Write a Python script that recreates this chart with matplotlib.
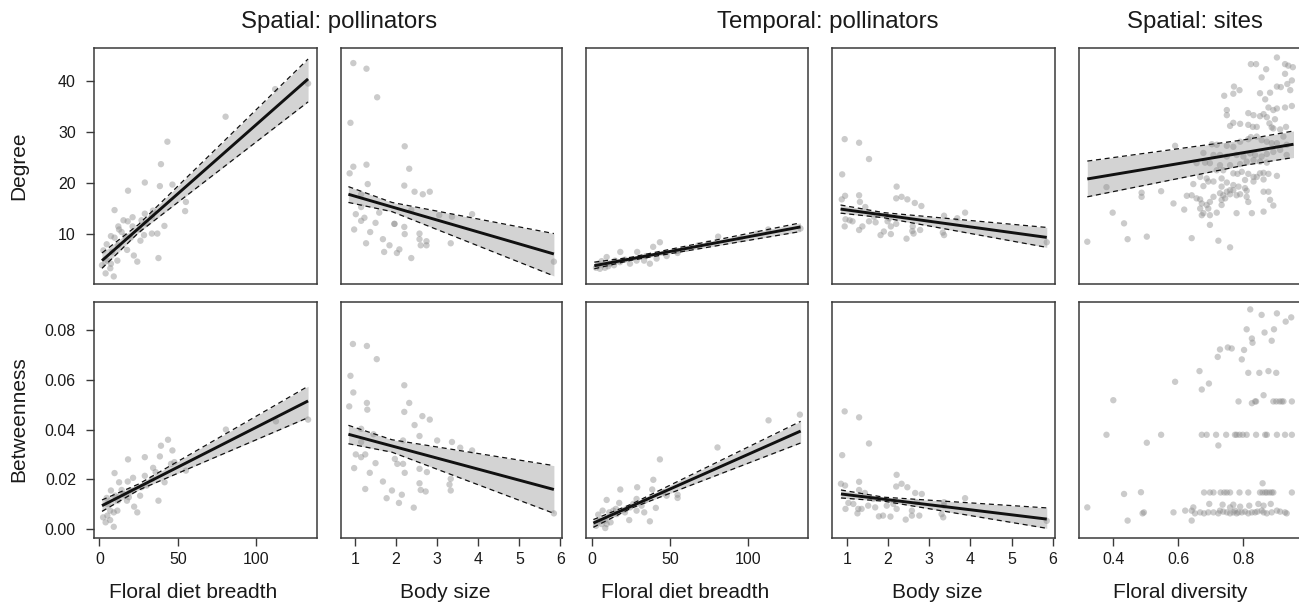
import matplotlib
matplotlib.use('Agg')
import matplotlib.pyplot as plt
import numpy as np

plt.rcParams['font.family'] = ['Liberation Sans', 'DejaVu Sans']

# ---------------- data ----------------
col_titles = ["Spatial: pollinators", "Temporal: pollinators", "Spatial: sites"]
x_labels = ["Floral diet breadth", "Body size", "Floral diet breadth", "Body size", "Floral diversity"]
y_labels = ["Degree", "Betweenness"]

deg_ticks = [10, 20, 30, 40]
btw_ticks = [0.00, 0.02, 0.04, 0.06, 0.08]
diet_ticks = [0, 50, 100]
body_ticks = [1, 2, 3, 4, 5, 6]
div_ticks = [0.4, 0.6, 0.8]

# Spatial: pollinators -- degree vs floral diet breadth
sp_diet_deg_x = [133, 112, 80.4, 43.3, 39.2, 38.5, 46.5, 28.9, 18.2, 55.1, 54.6, 9.6, 41.4, 18, 28.9, 33.4,
                 34.1, 36.9, 33.4, 28.4, 26.1, 21.9, 24.1, 37.6, 12.5, 7.3, 4.6, 9.6, 14.1, 17.6, 19.9, 21.1,
                 25.6, 11.4, 5, 7.3, 1.6, 3.9, 9.1, 6.9, 12, 15.3, 21.1, 26.8, 12, 8.1, 30, 16.4, 2.5]
sp_diet_deg_y = [39.5, 38.4, 33, 28.1, 23.7, 19.4, 19.7, 20.1, 18.5, 16.3, 14.5, 14.7, 11.6, 12.5, 14.0, 13.4,
                 14.6, 10.1, 10.1, 9.8, 8.7, 5.8, 4.6, 5.3, 10.9, 9.6, 8.0, 9.3, 10.4, 6.9, 9.3, 11.5,
                 10.9, 4.8, 4.8, 4.2, 3.9, 2.3, 1.7, 3.3, 11.5, 12.7, 13.3, 12.7, 7.8, 6.5, 12.1, 9.6, 6.8]

# Spatial: pollinators -- degree vs body size
sp_body_deg_x = [0.96, 1.28, 1.54, 0.89, 2.21, 0.87, 0.96, 1.28, 2.32, 1.31, 2.2, 1.15, 2.45, 2.65, 2.82,
                 2.37, 3.85, 3.36, 1.59, 1.15, 1.02, 1.23, 1.15, 1.5, 1.96, 2.2, 0.98, 1.37, 2.21, 2.57,
                 1.68, 1.27, 2.57, 2.74, 2.6, 2.74, 1.84, 3.33, 1.71, 2.08, 2.02, 2.37, 5.84, 3.05, 1.96]
sp_body_deg_y = [43.5, 42.4, 36.8, 31.8, 27.2, 21.9, 23.2, 23.6, 22.8, 19.8, 19.5, 17.8, 18.3, 17.8, 18.3,
                 14.7, 13.9, 13.4, 14.2, 15.3, 13.9, 13.2, 12.6, 12.2, 12.0, 11.4, 10.9, 10.4, 10.0, 10.1,
                 9.0, 8.2, 9.0, 8.6, 7.8, 7.8, 7.8, 8.2, 6.5, 7.0, 6.3, 5.3, 4.6, 13.7, 12.0]

# Temporal: pollinators -- degree vs floral diet breadth
tp_diet_deg_x = [133.4, 112.8, 80.8, 74.5, 54.9, 54.9, 47.9, 43.6, 39.3, 41.5, 37.2, 34.7, 29.1, 28.7, 24.5,
                 18.3, 18.1, 9.6, 6.4, 11.4, 8.5, 4.3, 2.8, 5.3, 10.6, 14.9, 21.3, 33.5, 60.7, 68.1, 94.7,
                 105.4, 14.3]
tp_diet_deg_y = [11.1, 10.9, 9.5, 8.2, 6.3, 6.7, 5.7, 8.4, 7.5, 5.2, 4.2, 5.7, 6.5, 4.8, 4.2,
                 6.5, 4.5, 5.5, 4.7, 4.2, 3.4, 4.2, 3.4, 3.2, 3.7, 4.8, 5.0, 4.8, 7.1, 7.8, 9.1,
                 10.1, 3.9]

# Temporal: pollinators -- degree vs body size
tp_body_deg_x = [0.95, 1.3, 1.54, 0.89, 0.88, 0.96, 1.3, 1.32, 1.45, 2.21, 2.2, 2.33, 2.47, 2.65, 2.81,
                 3.36, 3.87, 0.97, 0.95, 1.14, 1.07, 1.3, 1.38, 1.54, 1.7, 1.99, 2.07, 2.2, 1.9, 1.82,
                 2.07, 2.45, 2.59, 2.78, 2.62, 3.33, 3.36, 2.6, 1.66, 2.03, 3.68, 5.85]
tp_body_deg_y = [28.6, 27.9, 24.7, 21.7, 16.8, 17.5, 17.6, 16.3, 15.3, 19.3, 17.0, 17.3, 16.8, 16.1, 15.5,
                 13.6, 14.2, 12.9, 11.5, 12.5, 12.7, 10.8, 11.5, 12.5, 12.3, 12.5, 11.5, 12.0, 10.5, 9.8,
                 10.0, 9.1, 10.6, 10.8, 10.1, 10.3, 9.8, 11.5, 13.4, 13.1, 13.1, 8.4]

# Spatial: sites -- degree vs floral diversity
site_div_deg_x = [0.903, 0.823, 0.839, 0.928, 0.952, 0.938, 0.870, 0.928, 0.856, 0.949, 0.935, 0.915, 0.771,
                  0.788, 0.741, 0.769, 0.851, 0.882, 0.867, 0.903, 0.944, 0.928, 0.949, 0.877, 0.892, 0.903,
                  0.749, 0.749, 0.815, 0.831, 0.851, 0.862, 0.872, 0.897, 0.880, 0.759, 0.769, 0.790, 0.815,
                  0.829, 0.841, 0.892, 0.913, 0.931, 0.887,
                  0.590, 0.677, 0.703, 0.718, 0.749, 0.769, 0.790, 0.815, 0.823, 0.841, 0.856, 0.872, 0.887,
                  0.903, 0.923, 0.933, 0.708, 0.728, 0.749, 0.779, 0.800, 0.821, 0.836, 0.856, 0.872, 0.892,
                  0.913, 0.933, 0.656, 0.682, 0.697, 0.728, 0.759, 0.790, 0.810, 0.831, 0.851, 0.872, 0.718,
                  0.738, 0.769, 0.782, 0.795, 0.815, 0.831, 0.841, 0.851, 0.862, 0.877, 0.903, 0.667, 0.687,
                  0.708, 0.733, 0.749, 0.769, 0.805, 0.831, 0.862, 0.379, 0.487, 0.487, 0.547, 0.646, 0.677,
                  0.692, 0.733, 0.759, 0.785, 0.805, 0.626,
                  0.641, 0.656, 0.667, 0.672, 0.687, 0.697, 0.708, 0.728, 0.738, 0.749, 0.759, 0.769, 0.779,
                  0.790, 0.810, 0.810, 0.815, 0.733, 0.744, 0.585, 0.618, 0.667, 0.692, 0.677, 0.697, 0.718,
                  0.733, 0.779, 0.826, 0.862, 0.862, 0.877, 0.882, 0.892, 0.398, 0.433, 0.444, 0.503, 0.641,
                  0.723, 0.759, 0.697, 0.320, 0.672]
site_div_deg_y = [44.6, 43.3, 43.3, 43.3, 42.7, 43.0, 42.3, 41.4, 40.7, 40.1, 39.4, 38.8, 38.9,
                  38.2, 37.1, 37.5, 37.6, 37.7, 36.4, 38.9, 38.2, 34.8, 35.1, 34.8, 34.3, 34.6,
                  34.3, 33.3, 33.7, 33.3, 33.1, 33.5, 32.9, 32.5, 31.7, 31.2, 31.8, 31.6, 31.4,
                  31.0, 31.0, 30.7, 30.5, 31.0, 30.9,
                  27.3, 25.9, 27.6, 27.5, 27.3, 27.1, 28.1, 28.6, 29.0, 29.1, 28.4, 28.1, 27.8,
                  27.8, 29.1, 27.5, 25.5, 25.5, 25.2, 25.5, 25.2, 25.8, 25.5, 25.2, 25.7, 26.1,
                  26.5, 25.5, 23.9, 24.0, 23.9, 23.5, 23.5, 23.7, 24.2, 24.5, 24.2, 24.0, 22.5,
                  22.5, 21.9, 21.8, 22.2, 21.8, 21.2, 21.2, 21.9, 22.0, 21.8, 21.4, 21.2, 20.9,
                  20.3, 20.9, 20.1, 19.6, 20.6, 20.3, 20.7, 19.2, 18.1, 17.3, 18.4, 19.8, 19.4,
                  20.3, 19.3, 18.6, 19.3, 19.0, 17.5,
                  17.6, 17.0, 16.8, 16.0, 15.7, 16.3, 17.3, 18.0, 17.6, 18.3, 17.8, 18.6, 17.6,
                  17.8, 18.5, 17.3, 16.3, 16.7, 17.0, 16.0, 14.8, 15.0, 15.0, 14.1, 13.7, 14.2,
                  15.7, 14.1, 14.1, 14.4, 18.3, 18.3, 16.7, 15.6, 14.2, 12.1, 9.0, 9.5, 9.2,
                  8.7, 7.4, 11.8, 8.5, 13.7]

# Spatial: pollinators -- betweenness vs floral diet breadth
sp_diet_btw_x = [133, 112.5, 80.6, 43.7, 39.2, 46.5, 38.5, 28.9, 18.2, 47.8, 45.6, 55.1, 34.2, 41.5, 37.6,
                 9.6, 21.4, 18, 12.5, 28.9, 26.7, 25.9, 22.1, 24.1, 14.1, 17.5, 7.3, 4.6, 10, 15.3, 18.7,
                 30.1, 11.4, 9.1, 6.8, 5, 2.3, 3.9, 9.1, 6.8, 11.8, 19.8, 33.5, 35.8, 5]
sp_diet_btw_y = [0.044, 0.0433, 0.040, 0.0359, 0.0335, 0.0316, 0.0292, 0.0289, 0.028, 0.0269, 0.0262, 0.0235,
                 0.0246, 0.0188, 0.0114, 0.0225, 0.0206, 0.0191, 0.0188, 0.0214, 0.0168, 0.0134, 0.009,
                 0.0067, 0.0157, 0.0114, 0.0155, 0.0125, 0.0134, 0.0139, 0.0128, 0.0175, 0.0074, 0.0067,
                 0.0074, 0.0054, 0.0047, 0.0027, 0.0009, 0.0036, 0.0114, 0.0155, 0.0202, 0.0229, 0.0101]

# Spatial: pollinators -- betweenness vs body size
sp_body_btw_x = [0.95, 1.29, 1.53, 0.89, 0.96, 0.86, 1.29, 1.3, 2.2, 2.32, 2.2, 2.64, 2.82, 2.45, 1.15,
                 1.45, 1.15, 1.15, 1.02, 1.25, 0.98, 1.5, 1.36, 1.25, 1.68, 1.9, 1.77, 1.97, 2.03, 2.17,
                 2.17, 2.21, 2.57, 2.57, 2.75, 2.57, 2.6, 2.72, 2.14, 2.07, 2.43, 3.0, 3.36, 3.56, 3.85,
                 3.33, 3.3, 3.33, 5.84]
sp_body_btw_y = [0.0744, 0.0736, 0.0683, 0.0616, 0.0549, 0.0493, 0.0507, 0.048, 0.0578, 0.0507, 0.0471,
                 0.0454, 0.044, 0.0418, 0.0403, 0.0381, 0.035, 0.0289, 0.030, 0.030, 0.0245, 0.0265,
                 0.0226, 0.0161, 0.0191, 0.0155, 0.0124, 0.0282, 0.0262, 0.0262, 0.0356, 0.0226, 0.0374,
                 0.0242, 0.0229, 0.0184, 0.0157, 0.0151, 0.0138, 0.0105, 0.0086, 0.0356, 0.035, 0.0327,
                 0.0316, 0.0202, 0.0179, 0.0155, 0.0063]

# Temporal: pollinators -- betweenness vs floral diet breadth
tp_diet_btw_x = [133, 113, 80.4, 43.6, 39.4, 29.1, 18.3, 9.6, 17.6, 41, 37.2, 33.6, 28.7, 28.7, 24,
                 54.9, 54.9, 47.9, 45.7, 38.7, 34, 31.9, 21.3, 21.3, 13.8, 11.3, 7, 4.2, 4.9, 8.7, 9.6,
                 6.4, 2.8, 12.1, 16, 24.5, 26.6, 15.5, 8.5]
tp_diet_btw_y = [0.046, 0.0437, 0.0328, 0.028, 0.0198, 0.0168, 0.0159, 0.0117, 0.0105, 0.0085, 0.0031,
                 0.0067, 0.0121, 0.0074, 0.0036, 0.0138, 0.0125, 0.0134, 0.0148, 0.0159, 0.0114, 0.0094,
                 0.0078, 0.0067, 0.0074, 0.0067, 0.0074, 0.0058, 0.0034, 0.0004, 0.002, 0.002, 0.0013,
                 0.0027, 0.006, 0.0087, 0.0101, 0.0081, 0.0034]

# Temporal: pollinators -- betweenness vs body size
tp_body_btw_x = [0.95, 1.3, 1.54, 0.89, 0.86, 0.96, 1.3, 1.3, 1.44, 2.21, 2.2, 2.33, 2.47, 2.66, 2.82,
                 3.36, 3.87, 0.97, 1.04, 1.16, 1.28, 1.36, 1.26, 1.52, 1.69, 1.78, 1.88, 1.97, 2.06, 2.13,
                 2.21, 2.43, 2.58, 2.58, 2.76, 3.3, 3.34, 3.36, 1.64, 2.7, 5.85]
tp_body_btw_y = [0.0473, 0.0449, 0.0344, 0.0297, 0.0182, 0.0175, 0.019, 0.0157, 0.0145, 0.0218, 0.0171,
                 0.0182, 0.0168, 0.0145, 0.0141, 0.0108, 0.0124, 0.0081, 0.0105, 0.0101, 0.0081, 0.0081,
                 0.0063, 0.0094, 0.0087, 0.0051, 0.0054, 0.0094, 0.005, 0.0101, 0.0081, 0.0038, 0.0074,
                 0.0054, 0.0054, 0.006, 0.0047, 0.0094, 0.0121, 0.0108, 0.0033]

# Spatial: sites -- betweenness vs floral diversity
site_div_btw_x = [0.821, 0.856, 0.903, 0.947, 0.930, 0.810, 0.865, 0.894, 0.826, 0.828, 0.887, 0.728, 0.752,
                  0.764, 0.802, 0.721, 0.795, 0.815, 0.849, 0.877, 0.901, 0.665, 0.590, 0.694, 0.672, 0.862,
                  0.400,
                  0.785, 0.826, 0.836, 0.839, 0.892, 0.901, 0.911, 0.918, 0.923, 0.949,
                  0.379, 0.547, 0.672, 0.687, 0.716, 0.747, 0.774, 0.779, 0.788, 0.798, 0.810, 0.839, 0.867,
                  0.872, 0.903, 0.928, 0.949, 0.503, 0.723,
                  0.433, 0.485, 0.679, 0.697, 0.708, 0.730, 0.741, 0.749, 0.759, 0.788, 0.815, 0.851, 0.859,
                  0.867, 0.872, 0.880, 0.887, 0.892, 0.949, 0.859,
                  0.320, 0.695, 0.736, 0.769, 0.790, 0.818, 0.846, 0.862, 0.884, 0.759, 0.646, 0.621, 0.641,
                  0.667, 0.679, 0.692, 0.708, 0.723, 0.728, 0.738, 0.749, 0.759, 0.769, 0.774, 0.779, 0.785,
                  0.795, 0.805, 0.815, 0.826, 0.836, 0.843, 0.856, 0.862, 0.872, 0.887, 0.903, 0.913, 0.928,
                  0.933, 0.490, 0.494, 0.585, 0.651, 0.641, 0.444]
site_div_btw_y = [0.0883, 0.0861, 0.0867, 0.0851, 0.0834, 0.0803, 0.0790, 0.0803, 0.0766, 0.0749, 0.0757,
                  0.0722, 0.0730, 0.0726, 0.0720, 0.0692, 0.0682, 0.0628, 0.0628, 0.0635, 0.0628, 0.0635,
                  0.0592, 0.0585, 0.0561, 0.0538, 0.0518,
                  0.0513, 0.0506, 0.0513, 0.0513, 0.0513, 0.0513, 0.0513, 0.0513, 0.0513, 0.0513,
                  0.0379, 0.0379, 0.0379, 0.0379, 0.0379, 0.0379, 0.0379, 0.0379, 0.0379, 0.0379, 0.0379,
                  0.0379, 0.0379, 0.0379, 0.0379, 0.0379, 0.0379, 0.0347, 0.0336,
                  0.0141, 0.0148, 0.0147, 0.0147, 0.0147, 0.0147, 0.0147, 0.0147, 0.0147, 0.0147, 0.0147,
                  0.0147, 0.0147, 0.0147, 0.0147, 0.0147, 0.0147, 0.0147, 0.0147, 0.0184,
                  0.0087, 0.0101, 0.0098, 0.0098, 0.0090, 0.0094, 0.0101, 0.0094, 0.0101, 0.0087, 0.0087,
                  0.0074, 0.0074, 0.0067, 0.0063, 0.0067, 0.0067, 0.0063, 0.0074, 0.0070, 0.0067, 0.0063,
                  0.0067, 0.0074, 0.0063, 0.0067, 0.0067, 0.0070, 0.0063, 0.0067, 0.0067, 0.0070, 0.0074,
                  0.0067, 0.0063, 0.0067, 0.0074, 0.0070, 0.0067, 0.0063, 0.0063, 0.0067, 0.0067, 0.0063,
                  0.0034, 0.0034]

# fitted lines with confidence band: x, fit, lower, upper
sp_diet_deg_fx = [1.6, 25, 133];  sp_diet_deg_fit = [4.8, 11.1, 40.4]
sp_diet_deg_lo = [3.3, 10.3, 35.9]; sp_diet_deg_hi = [6.3, 11.9, 44.3]
sp_body_deg_fx = [0.84, 1.9, 5.84]; sp_body_deg_fit = [17.8, 15.3, 6.1]
sp_body_deg_lo = [16.2, 14.4, 1.8]; sp_body_deg_hi = [19.3, 16.2, 10.1]
tp_diet_deg_fx = [1.7, 25, 133.4]; tp_diet_deg_fit = [3.8, 5.14, 11.4]
tp_diet_deg_lo = [3.2, 4.85, 10.5]; tp_diet_deg_hi = [4.5, 5.45, 12.2]
tp_body_deg_fx = [0.85, 1.9, 5.85]; tp_body_deg_fit = [14.9, 13.73, 9.35]
tp_body_deg_lo = [14.1, 13.2, 7.4]; tp_body_deg_hi = [15.7, 14.2, 11.3]
site_div_deg_fx = [0.32, 0.8, 0.954]; site_div_deg_fit = [20.8, 25.95, 27.6]
site_div_deg_lo = [17.3, 23.45, 25.0]; site_div_deg_hi = [24.3, 28.45, 30.2]
sp_diet_btw_fx = [1.6, 25, 133]; sp_diet_btw_fit = [0.0094, 0.0169, 0.0515]
sp_diet_btw_lo = [0.0071, 0.0157, 0.0448]; sp_diet_btw_hi = [0.0117, 0.0181, 0.0574]
sp_body_btw_fx = [0.84, 1.9, 5.84]; sp_body_btw_fit = [0.0381, 0.0334, 0.0159]
sp_body_btw_lo = [0.0343, 0.0309, 0.0063]; sp_body_btw_hi = [0.0417, 0.0359, 0.0255]
tp_diet_btw_fx = [1.1, 25, 133.5]; tp_diet_btw_fit = [0.0024, 0.0091, 0.0394]
tp_diet_btw_lo = [0.0007, 0.0083, 0.0346]; tp_diet_btw_hi = [0.0038, 0.0099, 0.0433]
tp_body_btw_fx = [0.86, 1.9, 5.85]; tp_body_btw_fit = [0.0141, 0.0120, 0.0040]
tp_body_btw_lo = [0.0125, 0.0112, 0.0003]; tp_body_btw_hi = [0.0157, 0.0128, 0.0085]

# ---------------- layout ----------------
W, H = 1299, 604
fig = plt.figure(figsize=(W / 100, H / 100), dpi=100)

col_left = [94, 341, 586, 832.3, 1079]
col_right = [316.7, 561.7, 808, 1055, 1300]
row_top = [48.3, 301.7]
row_h = 235.8
xlabel_cx = [193.5, 445, 685.5, 937, 1180.7]

xlims = [(-3.5, 138.5), (0.66, 6.03), (-3.6, 138.2), (0.65, 6.05), (0.2945, 0.974)]
ylims = [(0.2, 46.4), (-0.0034, 0.0914)]
xticks = [diet_ticks, body_ticks, diet_ticks, body_ticks, div_ticks]

panels = [
    [(sp_diet_deg_x, sp_diet_deg_y, (sp_diet_deg_fx, sp_diet_deg_fit, sp_diet_deg_lo, sp_diet_deg_hi)),
     (sp_body_deg_x, sp_body_deg_y, (sp_body_deg_fx, sp_body_deg_fit, sp_body_deg_lo, sp_body_deg_hi)),
     (tp_diet_deg_x, tp_diet_deg_y, (tp_diet_deg_fx, tp_diet_deg_fit, tp_diet_deg_lo, tp_diet_deg_hi)),
     (tp_body_deg_x, tp_body_deg_y, (tp_body_deg_fx, tp_body_deg_fit, tp_body_deg_lo, tp_body_deg_hi)),
     (site_div_deg_x, site_div_deg_y, (site_div_deg_fx, site_div_deg_fit, site_div_deg_lo, site_div_deg_hi))],
    [(sp_diet_btw_x, sp_diet_btw_y, (sp_diet_btw_fx, sp_diet_btw_fit, sp_diet_btw_lo, sp_diet_btw_hi)),
     (sp_body_btw_x, sp_body_btw_y, (sp_body_btw_fx, sp_body_btw_fit, sp_body_btw_lo, sp_body_btw_hi)),
     (tp_diet_btw_x, tp_diet_btw_y, (tp_diet_btw_fx, tp_diet_btw_fit, tp_diet_btw_lo, tp_diet_btw_hi)),
     (tp_body_btw_x, tp_body_btw_y, (tp_body_btw_fx, tp_body_btw_fit, tp_body_btw_lo, tp_body_btw_hi)),
     (site_div_btw_x, site_div_btw_y, None)],
]

spine_col = '#3a3a3a'
txt_col = '#1a1a1a'
pt_col = (0.55, 0.55, 0.55)

for r in range(2):
    for c in range(5):
        l = col_left[c] / W
        w = (col_right[c] - col_left[c]) / W
        b = 1 - (row_top[r] + row_h) / H
        ax = fig.add_axes([l, b, w, row_h / H])
        x, y, fit = panels[r][c]
        if fit is not None:
            fx, fy, flo, fhi = fit
            ax.fill_between(fx, flo, fhi, color='#d3d3d3', lw=0, zorder=1)
        ax.scatter(x, y, s=21, color=pt_col, alpha=0.45, edgecolors='none', zorder=2)
        if fit is not None:
            ax.plot(fx, flo, color='#111111', lw=0.9, ls=(0, (4, 3)), zorder=3)
            ax.plot(fx, fhi, color='#111111', lw=0.9, ls=(0, (4, 3)), zorder=3)
            ax.plot([fx[0], fx[-1]], [fy[0], fy[-1]], color='#111111', lw=2.1,
                    solid_capstyle='butt', zorder=4)
        ax.set_xlim(*xlims[c])
        ax.set_ylim(*ylims[r])
        for s in ax.spines.values():
            s.set_color(spine_col)
            s.set_linewidth(1.1)
        ax.tick_params(direction='out', length=5.5, width=1.0, color=spine_col,
                       labelsize=11.5, labelcolor=txt_col)
        ax.tick_params(axis='x', pad=5)
        ax.tick_params(axis='y', pad=7.5)
        if r == 1:
            ax.set_xticks(xticks[c])
            ax.set_xticklabels([f"{t:g}" for t in xticks[c]])
        else:
            ax.set_xticks([])
        if c == 0:
            if r == 0:
                ax.set_yticks(deg_ticks)
                ax.set_yticklabels([f"{t:d}" for t in deg_ticks])
            else:
                ax.set_yticks(btw_ticks)
                ax.set_yticklabels([f"{t:.2f}" for t in btw_ticks])
        else:
            ax.set_yticks([])

# x-axis labels
for c in range(5):
    fig.text(xlabel_cx[c] / W, 1 - 598.3 / H, x_labels[c], ha='center', va='baseline',
             fontsize=15, color=txt_col)

# column titles
title_x = [339, 828, 1195]
for t, xc in zip(col_titles, title_x):
    fig.text(xc / W, 1 - 28.3 / H, t, ha='center', va='baseline', fontsize=17.3, color=txt_col)

# row labels
fig.text(19 / W, 1 - (row_top[0] + row_h / 2) / H, y_labels[0], rotation=90,
         ha='center', va='center', fontsize=15, color=txt_col)
fig.text(19 / W, 1 - (row_top[1] + row_h / 2) / H, y_labels[1], rotation=90,
         ha='center', va='center', fontsize=15, color=txt_col)

fig.savefig('out.png', dpi=100)
